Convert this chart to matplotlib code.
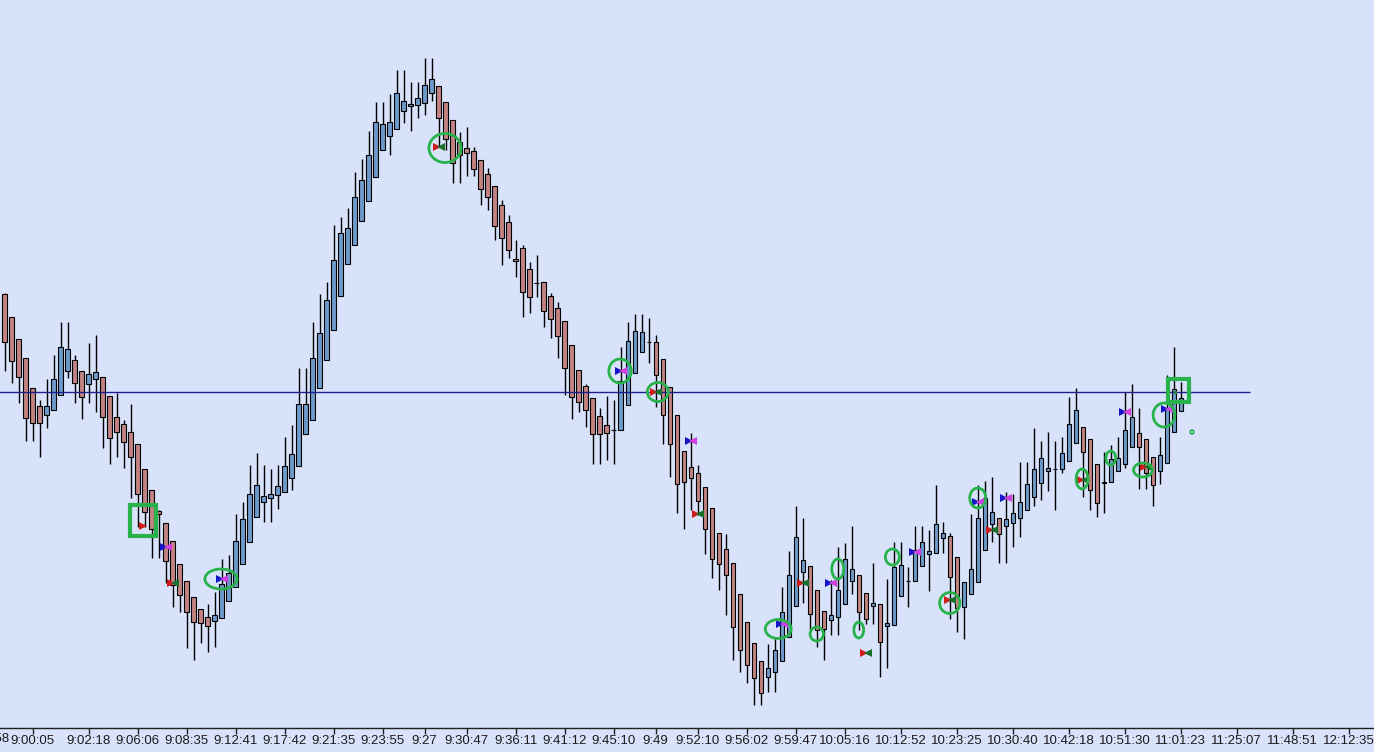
import matplotlib
matplotlib.use("Agg")
import matplotlib.pyplot as plt
from matplotlib.patches import Ellipse, Rectangle

# OHLC bars (price units), one per bar index 0..168
opens = [
    466, 443, 421, 402, 372, 354, 345, 350, 365, 389, 400, 389, 376, 381, 383, 364, 343, 336, 328, 316,
    291, 270, 249, 237, 219, 196, 179, 163, 151, 143, 139, 142, 159, 173, 196, 218, 243, 258, 262, 265,
    268, 282, 294, 326, 340, 372, 400, 430, 464, 496, 515, 539, 559, 583, 610, 624, 631, 649, 654, 655,
    657, 667, 674, 658, 640, 618, 612, 609, 600, 586, 574, 555, 538, 501, 512, 491, 477, 478, 464, 452,
    439, 415, 390, 374, 362, 344, 335, 330, 330, 355, 387, 408, 418, 418, 401, 373, 345, 309, 293, 287,
    273, 252, 227, 211, 197, 166, 138, 117, 99, 83, 88, 99, 123, 154, 188, 194, 170, 149, 140, 143,
    156, 179, 185, 167, 154, 156, 134, 135, 164, 179, 179, 194, 206, 207, 222, 224, 203, 153, 166, 178,
    210, 236, 242, 234, 237, 242, 250, 263, 277, 289, 291, 291, 299, 317, 333, 321, 296, 277, 278, 289,
    296, 313, 327, 321, 303, 289, 297, 328, 349,
]
highs = [
    467, 443, 421, 402, 372, 360, 381, 405, 438, 438, 405, 389, 417, 425, 383, 364, 367, 340, 356, 316,
    291, 270, 250, 237, 219, 196, 179, 163, 151, 156, 168, 201, 205, 246, 258, 295, 307, 295, 291, 295,
    323, 335, 392, 392, 438, 466, 478, 535, 543, 552, 588, 601, 629, 658, 658, 666, 690, 690, 678, 678,
    702, 702, 674, 658, 640, 628, 633, 613, 600, 592, 574, 560, 545, 520, 515, 498, 505, 478, 467, 458,
    439, 415, 390, 376, 362, 352, 364, 360, 413, 438, 446, 446, 442, 425, 401, 373, 345, 309, 327, 295,
    273, 252, 227, 226, 197, 166, 138, 117, 99, 116, 123, 173, 209, 254, 242, 194, 170, 149, 180, 213,
    217, 234, 185, 167, 197, 156, 181, 218, 218, 193, 234, 234, 230, 275, 238, 227, 203, 178, 246, 275,
    279, 283, 242, 268, 266, 298, 298, 332, 319, 328, 319, 323, 363, 372, 333, 321, 296, 308, 315, 323,
    368, 376, 352, 321, 303, 323, 385, 413, 378,
]
lows = [
    389, 377, 357, 319, 319, 303, 332, 350, 365, 382, 357, 341, 357, 348, 312, 296, 303, 292, 262, 233,
    233, 202, 202, 177, 153, 148, 112, 100, 117, 108, 113, 142, 159, 173, 196, 218, 243, 238, 238, 251,
    268, 270, 294, 326, 340, 372, 400, 430, 464, 496, 515, 539, 559, 583, 610, 605, 631, 637, 629, 642,
    645, 659, 613, 610, 577, 577, 584, 584, 555, 550, 520, 495, 502, 483, 443, 447, 463, 433, 422, 402,
    365, 341, 348, 333, 296, 296, 300, 296, 330, 355, 387, 408, 397, 353, 316, 283, 247, 231, 250, 245,
    206, 182, 170, 145, 100, 88, 77, 55, 55, 68, 68, 99, 123, 154, 157, 130, 113, 100, 125, 125,
    156, 166, 130, 136, 136, 83, 92, 135, 164, 153, 179, 194, 169, 207, 207, 141, 128, 121, 166, 178,
    210, 218, 197, 197, 213, 223, 250, 254, 260, 269, 250, 287, 299, 317, 263, 250, 243, 247, 278, 289,
    292, 313, 271, 271, 254, 276, 297, 328, 349,
]
closes = [
    418, 399, 383, 342, 337, 337, 354, 381, 413, 411, 377, 363, 386, 388, 343, 322, 328, 318, 303, 266,
    248, 231, 246, 199, 175, 165, 148, 138, 137, 134, 145, 176, 187, 219, 241, 266, 275, 264, 266, 274,
    294, 306, 356, 356, 402, 427, 460, 500, 527, 532, 563, 580, 605, 638, 636, 638, 667, 659, 656, 662,
    675, 681, 642, 621, 597, 605, 607, 591, 571, 563, 534, 522, 510, 499, 468, 463, 477, 449, 441, 424,
    392, 363, 358, 350, 326, 326, 327, 330, 379, 419, 429, 428, 418, 385, 345, 316, 276, 278, 282, 259,
    231, 201, 196, 185, 133, 110, 95, 82, 67, 92, 110, 148, 185, 223, 200, 146, 130, 131, 145, 170,
    201, 191, 148, 141, 157, 118, 137, 193, 195, 179, 210, 218, 209, 236, 227, 183, 152, 178, 191, 242,
    262, 248, 226, 241, 247, 258, 276, 291, 302, 292, 291, 307, 336, 350, 308, 270, 257, 278, 301, 302,
    330, 343, 313, 287, 275, 305, 351, 371, 362,
]

# signal markers: bar index, price, kind
sig_idx = [20, 23, 24, 31, 62, 88, 93, 98, 99, 111, 114, 118, 123, 130, 135, 139, 141, 143, 154, 160, 163, 166]
sig_price = [234, 213, 177, 181, 613, 389, 368, 319, 246, 136, 177, 177, 107, 208, 160, 258, 230, 262, 280, 348, 293, 351]
sig_kind = ["r", "bm", "rg", "bm", "rg", "bm", "rg", "bm", "rg", "bm", "rg", "bm", "rg", "bm", "rg", "bm", "rg", "bm",
            "rg", "bm", "rg", "bm"]

# hand-drawn green ellipses: centre (bar index, price), size (bars, price)
ell_x = [62.9, 30.9, 87.9, 93.3, 110.5, 116.0, 119.0, 122.0, 126.8, 135.0, 139.0, 153.9, 158.0, 162.6, 165.6]
ell_y = [612, 181, 389, 368, 131, 126, 191, 130, 203, 157, 262, 281, 302, 290, 345]
ell_w = [4.6, 4.6, 3.2, 3.0, 3.7, 1.9, 1.7, 1.4, 2.0, 2.9, 2.3, 1.7, 1.4, 2.7, 3.1]
ell_h = [29, 20, 24, 19, 19, 14, 20, 16, 16, 21, 20, 20, 14, 14, 24]

# green boxes: (left, bottom, right, top)
boxes = [(17.9, 224, 21.6, 255), (166.2, 358, 169.2, 381)]

level_price = 368

tick_pos = [-2.4, 4, 12, 19, 26, 33, 40, 47, 54, 60, 66, 73, 80, 87, 93, 99, 106, 113, 120, 128, 136, 144,
            152, 160, 168, 176, 184, 192]
tick_labels = ["8:57:58", "9:00:05", "9:02:18", "9:06:06", "9:08:35", "9:12:41", "9:17:42", "9:21:35",
               "9:23:55", "9:27", "9:30:47", "9:36:11", "9:41:12", "9:45:10", "9:49", "9:52:10",
               "9:56:02", "9:59:47", "10:05:16", "10:12:52", "10:23:25", "10:30:40", "10:42:18",
               "10:51:30", "11:01:23", "11:25:07", "11:48:51", "12:12:35"]

BG = "#d8e3fb"
UP = "#6d9acb"
DOWN = "#c38383"
GREEN = "#27b24a"
TXT = "#1a1a1a"

fig = plt.figure(figsize=(13.74, 7.52), dpi=100, facecolor=BG)
ax = fig.add_axes([0, 24 / 752, 1, 728 / 752])
ax.set_facecolor(BG)

xs = list(range(len(opens)))
ax.vlines(xs, lows, highs, color="black", linewidth=1.0, zorder=2)

bottoms = [min(o, c) for o, c in zip(opens, closes)]
heights = [abs(c - o) for o, c in zip(opens, closes)]
cols = [UP if c > o else DOWN for o, c in zip(opens, closes)]
ax.bar(xs, heights, bottom=bottoms, width=0.64, color=cols, edgecolor="black",
       linewidth=0.8, zorder=3)

ax.hlines(level_price, -1, 177.9, color="#1e1e8c", linewidth=1.0, zorder=4)

# signal triangles
for x, y, k in zip(sig_idx, sig_price, sig_kind):
    if k == "r":
        ax.plot(x - 0.3, y, marker=">", ms=5.5, color="#d01c1c", mew=0, zorder=6)
    elif k == "bm":
        ax.plot(x - 0.3, y, marker=">", ms=5.5, color="#1515c8", mew=0, zorder=6)
        ax.plot(x + 0.3, y, marker="<", ms=5.5, color="#d040e0", mew=0, zorder=6)
    else:
        ax.plot(x - 0.3, y, marker=">", ms=5.5, color="#d01c1c", mew=0, zorder=6)
        ax.plot(x + 0.3, y, marker="<", ms=5.5, color="#17702c", mew=0, zorder=6)

for x, y, w, h in zip(ell_x, ell_y, ell_w, ell_h):
    ax.add_patch(Ellipse((x, y), w, h, fill=False, edgecolor=GREEN, linewidth=2.0, zorder=7))

# small circle to the right of the last bar
ax.add_patch(Ellipse((169.6, 328), 0.5, 4, fill=False, edgecolor=GREEN, linewidth=1.2, zorder=7))
ax.plot(167.2, 368, marker="o", ms=2.5, color="#1f8a3a", mew=0, zorder=8)

for x0, y0, x1, y1 in boxes:
    ax.add_patch(Rectangle((x0, y0), x1 - x0, y1 - y0, fill=False, edgecolor=GREEN,
                           linewidth=3.0, zorder=7))

for s in ["top", "left", "right"]:
    ax.spines[s].set_visible(False)
ax.spines["bottom"].set_color("#202020")
ax.spines["bottom"].set_linewidth(1.0)

ax.set_yticks([])
ax.set_xticks(tick_pos[1:])
ax.set_xticklabels(tick_labels[1:], fontsize=9.5, family="Liberation Sans", color=TXT)
ax.tick_params(axis="x", direction="out", length=4, width=1, color="#202020", pad=1)

# first label sits half off the left edge, as in the source chart
ax.text(tick_pos[0], -0.0075, tick_labels[0], transform=ax.get_xaxis_transform(),
        ha="center", va="top", fontsize=9.5, family="Liberation Sans", color=TXT, clip_on=False)

# limits last, so the off-screen first tick does not widen the view
ax.set_xlim(-0.67, 195.6)
ax.set_ylim(32, 760)

fig.savefig("out.png", dpi=100, facecolor=BG)
